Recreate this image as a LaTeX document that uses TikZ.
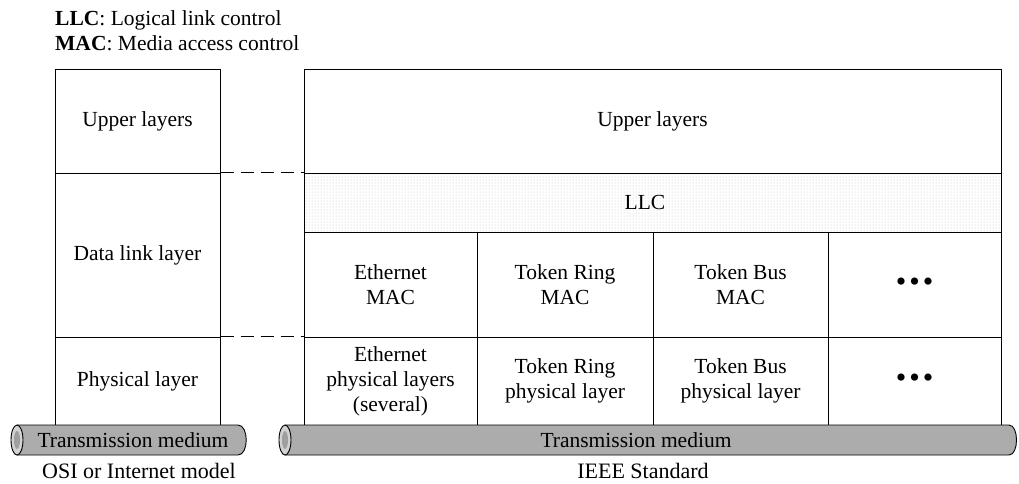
\documentclass[tikz,border=0pt]{standalone}
\usepackage{fontspec}
\setmainfont{Liberation Serif}
\usetikzlibrary{patterns}
\newcommand{\moredots}{{\fontsize{30}{30}\selectfont\textbullet\hspace{3pt}\textbullet\hspace{3pt}\textbullet}}
\begin{document}
\begin{tikzpicture}[x=1pt,y=-1pt,
  every node/.style={font=\fontsize{21.5}{25}\selectfont, align=center, inner sep=0pt},
  cell/.style={draw, line width=1pt},
  dashline/.style={dash pattern=on 13pt off 7pt, line width=0.8pt},
  tubebody/.style={fill=gray!65, draw=black, line width=0.9pt},
  tubeend/.style={fill=gray!35, draw=black, line width=0.9pt},
  caption/.style={font=\fontsize{22}{24}\selectfont}]
\useasboundingbox (0,0) rectangle (1019,483);

% legend
\node[anchor=west, align=left] (leg) at (55,31) {\textbf{LLC}: Logical link control\\\textbf{MAC}: Media access control};

% OSI / Internet stack
\node[cell, minimum width=165pt, minimum height=104pt] (oup) at (137.5,121) {Upper layers};
\node[cell, minimum width=165pt, minimum height=164pt] (odl) at (137.5,255) {Data link layer};
\node[cell, minimum width=165pt, minimum height=88pt] (oph) at (137.5,381) {Physical layer};

% IEEE stack
\node[cell, minimum width=697pt, minimum height=104pt] (iup) at (652.5,121) {Upper layers};
\path[pattern=dots, pattern color=gray!50] (304,173) rectangle (1001,232);
\node[cell, minimum width=697pt, minimum height=59pt] (llc) at (652.5,202.5) {};
\node (llct) at (645,202.5) {LLC};

\node[cell, minimum width=173pt, minimum height=105pt] (m1) at (390.5,284.5) {Ethernet\\MAC};
\node[cell, minimum width=176pt, minimum height=105pt] (m2) at (565,284.5) {Token Ring\\MAC};
\node[cell, minimum width=175pt, minimum height=105pt] (m3) at (740.5,284.5) {Token Bus\\MAC};
\node[cell, minimum width=173pt, minimum height=105pt] (m4) at (914.5,284.5) {\moredots};

\node[cell, minimum width=173pt, minimum height=88pt] (p1) at (390.5,381) {Ethernet\\physical layers\\(several)};
\node[cell, minimum width=176pt, minimum height=88pt] (p2) at (565,381) {Token Ring\\physical layer};
\node[cell, minimum width=175pt, minimum height=88pt] (p3) at (740.5,381) {Token Bus\\physical layer};
\node[cell, minimum width=173pt, minimum height=88pt] (p4) at (914.5,381) {\moredots};

% layer correspondence
\draw[dashline] (odl.north east) -- (llc.north west);
\draw[dashline] (oph.north east) -- (p1.north west);

% left transmission medium
\draw[tubebody] (17,425) -- (238,425) .. controls (249,425) and (249,455) .. (238,455) -- (17,455);
\filldraw[tubeend] (17,440) ellipse[x radius=6, y radius=15];
\fill[gray!75] (17,440) ellipse[x radius=3, y radius=9];
\node (tl) at (133,440) {Transmission medium};

% right transmission medium
\draw[tubebody] (285,425) -- (1009,425) .. controls (1019,425) and (1019,455) .. (1009,455) -- (285,455);
\filldraw[tubeend] (285,440) ellipse[x radius=6, y radius=15];
\fill[gray!75] (285,440) ellipse[x radius=3, y radius=9];
\node (tr) at (636,440) {Transmission medium};

% captions
\node[caption] (cl) at (139,471) {OSI or Internet model};
\node[caption] (cr) at (643,471) {IEEE Standard};
\end{tikzpicture}
\end{document}
